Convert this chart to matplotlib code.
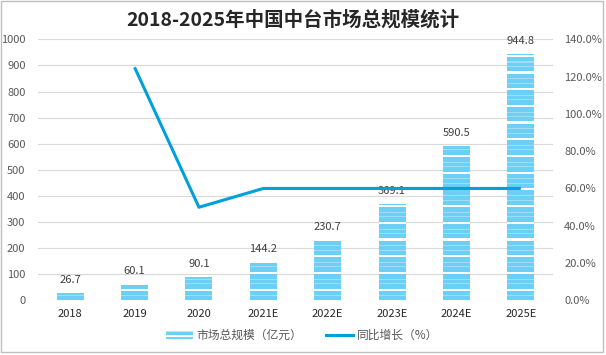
"""2018-2025年中国中台市场总规模统计: 柱状图 + 同比增长折线."""

import numpy as np
import matplotlib
matplotlib.use("Agg")
import matplotlib.pyplot as plt
from matplotlib.patches import Patch, Rectangle
from matplotlib.lines import Line2D

plt.rcParams["font.family"] = ["Noto Sans CJK SC", "DejaVu Sans"]
plt.rcParams["hatch.linewidth"] = 1.4

# ---------------------------------------------------------------------------
# 数据
# ---------------------------------------------------------------------------
years = ["2018", "2019", "2020", "2021E", "2022E", "2023E", "2024E", "2025E"]
market_size = [26.7, 60.1, 90.1, 144.2, 230.7, 369.1, 590.5, 944.8]
growth = [np.nan, 1.25, 0.499, 0.60, 0.60, 0.60, 0.60, 0.60]

left_ticks = list(range(0, 1001, 100))
right_ticks = [0.0, 0.2, 0.4, 0.6, 0.8, 1.0, 1.2, 1.4]

# ---------------------------------------------------------------------------
# 样式
# ---------------------------------------------------------------------------
COLOR_BAR = "#6BCFF6"
COLOR_BAR_LIGHT = "#9FDDF8"
COLOR_LINE = "#00A0DC"
COLOR_GRID = "#D9D9D9"
COLOR_TICK = "#595959"
COLOR_LABEL = "#404040"

W, H = 606, 355
fig = plt.figure(figsize=(W / 100, H / 100), dpi=100)
ax = fig.add_axes([38 / W, (H - 300.3) / H, (553 - 38) / W, 261 / H])
ax2 = ax.twinx()

x = np.arange(len(years))
bars = ax.bar(x, market_size, width=0.42, color=COLOR_BAR, zorder=2)

# 条纹纹理 (白色间隔 + 两条浅色细线), 周期约 16.7 px
period = 64.0
for b in bars:
    for g in np.arange(41.0, 1000, period):
        for y0, hw, c in [(g, 4.2, "white"), (g - 24, 2.0, COLOR_BAR_LIGHT),
                          (g - 41, 2.0, COLOR_BAR_LIGHT)]:
            span = ax.axhspan(y0 - hw, y0 + hw, color=c, lw=0, zorder=3)
            span.set_clip_path(b)

for xi, v in zip(x, market_size):
    ax.annotate(f"{v:.1f}", (xi, v), xytext=(0, 9.5), textcoords="offset points",
                ha="center", va="center", fontsize=8, color=COLOR_LABEL)

ax.set_ylim(0, 1000)
ax.set_xlim(-0.5, len(years) - 0.5)
ax.set_yticks(left_ticks)
ax.set_xticks(x)
ax.set_xticklabels(years)
ax.yaxis.grid(True, color=COLOR_GRID, linewidth=0.8, zorder=0)
ax.set_axisbelow(True)
ax.tick_params(axis="y", length=0, pad=9, labelsize=8, labelcolor=COLOR_TICK)
ax.tick_params(axis="x", length=0, pad=6, labelsize=8, labelcolor="#262626")

ax2.plot(x, growth, color=COLOR_LINE, linewidth=2.2, solid_capstyle="butt")
ax2.set_ylim(0, 1.4)
ax2.set_yticks(right_ticks)
ax2.set_yticklabels([f"{t * 100:.1f}%" for t in right_ticks])
ax2.tick_params(axis="y", length=0, pad=8, labelsize=8, labelcolor=COLOR_TICK)

for a in (ax, ax2):
    for s in a.spines.values():
        s.set_visible(False)

fig.text(293 / W, 1 - 20 / H, "2018-2025年中国中台市场总规模统计",
         ha="center", va="center", fontsize=14, fontweight="bold",
         color="#262626")

handles = [
    Patch(facecolor=COLOR_BAR, edgecolor="white", linewidth=0, hatch="---"),
    Line2D([], [], color=COLOR_LINE, linewidth=2.2),
]
fig.legend(handles, ["市场总规模（亿元）", "同比增长（%）"],
           loc="center", bbox_to_anchor=(302 / W, 19.5 / H), ncol=2,
           frameon=False, fontsize=8.5, labelcolor=COLOR_TICK,
           handlelength=2.3, handletextpad=0.3, columnspacing=2.0)

fig.add_artist(Rectangle((1 / W, 3 / H), 602 / W, 351 / H,
                         transform=fig.transFigure, fill=False,
                         edgecolor="#BFBFBF", linewidth=1))

fig.savefig("out.png", dpi=100)
